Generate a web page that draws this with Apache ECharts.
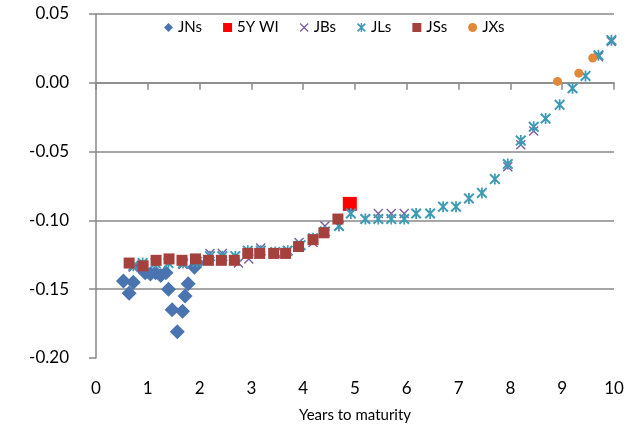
<!DOCTYPE html>
<html><head><meta charset="utf-8">
<script src="https://cdn.jsdelivr.net/npm/echarts@6/dist/echarts.min.js"></script>
<style>html,body{margin:0;padding:0;background:#fff}#c{width:642px;height:430px}</style>
</head><body><div id="c"></div>
<script>
const xTicks = [0,1,2,3,4,5,6,7,8,9,10];
const yTicks = [-0.20,-0.15,-0.10,-0.05,0.00,0.05];
const JNs = [[0.53,-0.144],[0.64,-0.153],[0.72,-0.145],[0.85,-0.134],[0.95,-0.138],[1.05,-0.139],[1.15,-0.138],[1.25,-0.140],[1.35,-0.138],[1.40,-0.150],[1.47,-0.165],[1.57,-0.181],[1.67,-0.166],[1.72,-0.155],[1.78,-0.146],[1.90,-0.134],[1.96,-0.131]];
const WI5Y = [[4.90,-0.088]];
const JBs = [[0.72,-0.134],[1.15,-0.131],[1.68,-0.132],[2.20,-0.124],[2.44,-0.124],[2.75,-0.131],[2.95,-0.128],[3.18,-0.120],[3.46,-0.124],[3.70,-0.122],[3.92,-0.116],[4.19,-0.116],[4.42,-0.104],[4.69,-0.104],[5.20,-0.099],[5.45,-0.095],[5.70,-0.095],[5.95,-0.095],[7.95,-0.061],[8.20,-0.045],[8.45,-0.035],[9.70,0.019],[9.95,0.030]];
const JLs = [[0.72,-0.133],[0.90,-0.131],[1.15,-0.131],[1.40,-0.131],[1.68,-0.131],[1.95,-0.130],[2.20,-0.126],[2.44,-0.126],[2.69,-0.126],[2.93,-0.122],[3.18,-0.122],[3.46,-0.123],[3.70,-0.122],[3.95,-0.118],[4.19,-0.113],[4.42,-0.108],[4.69,-0.104],[4.92,-0.095],[5.20,-0.099],[5.45,-0.099],[5.70,-0.099],[5.95,-0.099],[6.18,-0.095],[6.45,-0.095],[6.70,-0.090],[6.95,-0.090],[7.20,-0.084],[7.45,-0.080],[7.70,-0.070],[7.95,-0.059],[8.20,-0.042],[8.45,-0.032],[8.68,-0.026],[8.95,-0.016],[9.20,-0.004],[9.45,0.005],[9.70,0.020],[9.95,0.031]];
const JSs = [[0.64,-0.131],[0.91,-0.133],[1.16,-0.129],[1.41,-0.128],[1.66,-0.129],[1.92,-0.128],[2.17,-0.129],[2.42,-0.129],[2.67,-0.129],[2.93,-0.124],[3.16,-0.124],[3.43,-0.124],[3.66,-0.124],[3.91,-0.119],[4.19,-0.114],[4.40,-0.109],[4.67,-0.099]];
const JXs = [[8.91,0.001],[9.32,0.007],[9.59,0.018]];

const X_PATH = 'path://M0,1L1,0L5,4L9,0L10,1L6,5L10,9L9,10L5,6L1,10L0,9L4,5Z';
const STAR_PATH = 'path://M0,1.3L1.3,0L5,3.7L8.7,0L10,1.3L6.3,5L10,8.7L8.7,10L5,6.3L1.3,10L0,8.7L3.7,5ZM4.2,0L5.8,0L5.8,10L4.2,10Z';
const font = 'Lato, "Liberation Sans", sans-serif';
const grid = '#898989';
const chart = echarts.init(document.getElementById('c'), null, {renderer:'canvas'});
chart.setOption({
  animation:false,
  textStyle:{fontFamily:font},
  grid:{left:96,right:28,top:14,bottom:72},
  legend:{
    top:17, left:156, backgroundColor:'#ffffff', padding:[3,8],
    itemGap:21, itemWidth:9, itemHeight:9,
    textStyle:{fontFamily:font,fontSize:15,color:'#000'},
    data:['JNs','5Y WI','JBs','JLs','JSs','JXs']
  },
  xAxis:[{
    type:'value', min:xTicks[0], max:xTicks[xTicks.length-1], interval:1,
    name:'Years to maturity', nameLocation:'middle', nameGap:50,
    nameTextStyle:{fontFamily:font,fontSize:15,color:'#000'},
    axisLine:{show:false,onZero:false}, axisTick:{show:false}, splitLine:{show:false},
    axisLabel:{fontFamily:font,fontSize:17,color:'#000',margin:22}
  },{
    type:'value', position:'bottom', min:xTicks[0], max:xTicks[xTicks.length-1], interval:1,
    axisLine:{show:true,onZero:true,lineStyle:{color:grid,width:1.5}},
    axisTick:{show:true,length:7,lineStyle:{color:grid,width:1.5}},
    axisLabel:{show:false}, splitLine:{show:false}
  }],
  yAxis:{
    type:'value', min:yTicks[0], max:yTicks[yTicks.length-1], interval:0.05,
    axisLine:{show:true,lineStyle:{color:grid,width:1.5}},
    axisTick:{show:true,length:7,lineStyle:{color:grid,width:1.5}},
    splitLine:{show:true,lineStyle:{color:['rgba(0,0,0,0)',grid,grid,grid,grid,grid],width:1.5}},
    axisLabel:{fontFamily:font,fontSize:17,color:'#000',margin:27,formatter:v=>v.toFixed(2)}
  },
  series:[
    {name:'JNs',type:'scatter',data:JNs,symbol:'diamond',symbolSize:15,itemStyle:{color:'#4A74B0',opacity:1}},
    {name:'5Y WI',type:'scatter',data:WI5Y,symbol:'rect',symbolSize:14,itemStyle:{color:'#FF0000',opacity:1}},
    {name:'JBs',type:'scatter',data:JBs,symbol:X_PATH,symbolSize:10,itemStyle:{color:'#7B5EA0',opacity:1}},
    {name:'JLs',type:'scatter',data:JLs,symbol:STAR_PATH,symbolSize:11,itemStyle:{color:'#3E9BB5',opacity:1}},
    {name:'JSs',type:'scatter',data:JSs,symbol:'rect',symbolSize:11,itemStyle:{color:'#A6403D',opacity:1}},
    {name:'JXs',type:'scatter',data:JXs,symbol:'circle',symbolSize:9,itemStyle:{color:'#E0893A',opacity:1}}
  ]
});
</script></body></html>
